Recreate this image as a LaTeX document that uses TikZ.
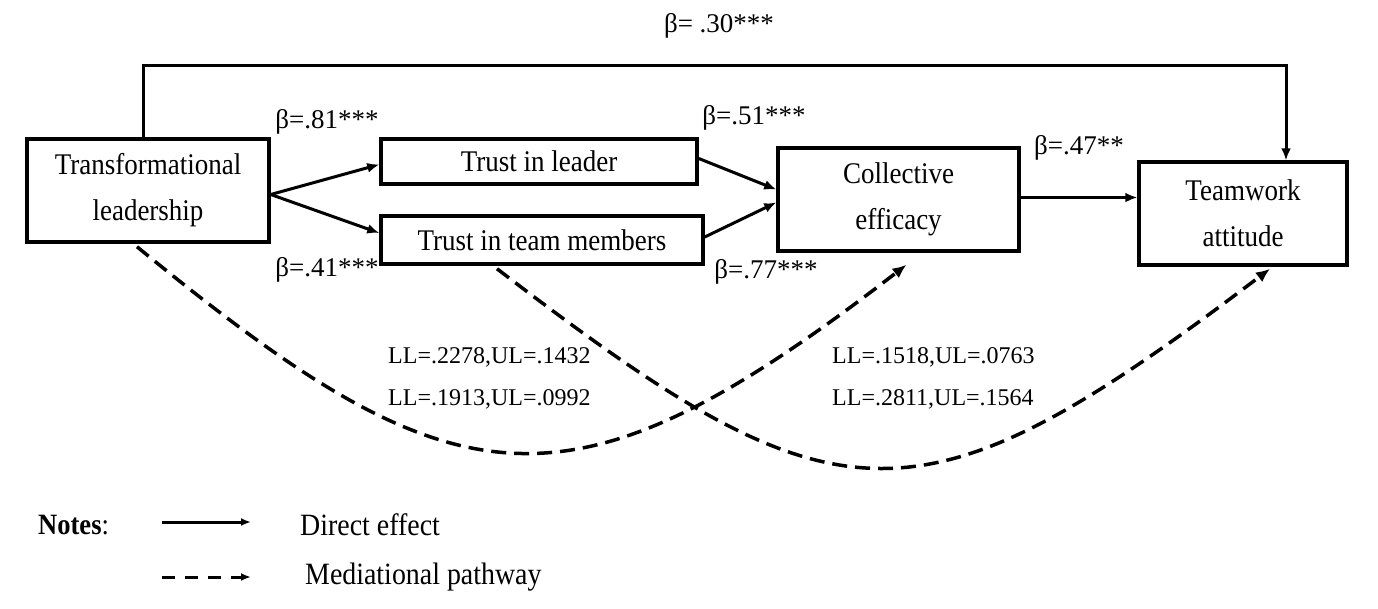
\documentclass[tikz,border=0pt]{standalone}
\usepackage{fontspec}
\setmainfont{Liberation Serif}
\newfontfamily\narrowfont[FakeStretch=0.9]{Liberation Serif}
\usepackage{tikz}
\usetikzlibrary{positioning,calc,arrows.meta}

\begin{document}
\begin{tikzpicture}[x=1pt,y=-1pt,
    box/.style={draw,line width=3.5pt,align=center,inner sep=0pt,
        font=\narrowfont\fontsize{30}{46}\selectfont},
    direct/.style={line width=3pt,-{Latex[length=12pt,width=10pt]}},
    mediation/.style={line width=3.5pt,dash pattern=on 15pt off 8pt,
        -{Latex[length=14pt,width=12pt]}},
    coef/.style={font=\fontsize{27}{30}\selectfont,inner sep=0pt},
    ci/.style={font=\fontsize{24}{26}\selectfont,inner sep=0pt},
    legend/.style={font=\narrowfont\fontsize{31}{33}\selectfont,inner sep=0pt,anchor=west}]
    \useasboundingbox (0,0) rectangle (1378,608);
    % boxes
    \node[box,minimum width=242pt,minimum height=103pt] (tl) at (148,190.5) {Transformational\\leadership};
    \node[box,minimum width=316pt,minimum height=45pt] (tleader) at (539,161.5) {Trust in leader};
    \node[box,minimum width=322pt,minimum height=48pt] (tteam) at (542,240) {Trust in team members};
    \node[box,minimum width=241pt,minimum height=103pt] (ce) at (898.5,199.5) {Collective\\efficacy};
    \node[box,minimum width=208pt,minimum height=103pt] (ta) at (1243,213.5) {Teamwork\\attitude};
    % direct effects
    \draw[direct] ([xshift=-5pt]tl.north) -- ++(0,-72) -| ([xshift=43pt]ta.north);
    \draw[direct] ([yshift=-4pt]tl.east) -- ([yshift=-3pt]tleader.west);
    \draw[direct] ([yshift=-4pt]tl.east) -- ([yshift=7pt]tteam.west);
    \draw[direct] ([yshift=3pt]tleader.east) -- ([yshift=10pt]ce.west);
    \draw[direct] ([yshift=3pt]tteam.east) -- ([yshift=-3pt]ce.west);
    \draw[direct] ([yshift=2pt]ce.east) -- ([yshift=2pt]ce.east -| ta.west);
    % mediational pathways
    \draw[mediation] ([xshift=-11pt,yshift=-3pt]tl.south) .. controls +(320,262) and +(-340,262) .. ([xshift=8pt,yshift=-12pt]ce.south);
    \draw[mediation] ([xshift=-45pt,yshift=-3pt]tteam.south) .. controls +(340,260) and +(-356,270) .. ([xshift=27pt,yshift=-2pt]ta.south);
    % coefficients
    \node[coef] (b30) at (719,26) {β= .30***};
    \node[coef] (b81) at (327,122) {β=.81***};
    \node[coef] (b41) at (327,270) {β=.41***};
    \node[coef] (b51) at (754,118) {β=.51***};
    \node[coef] (b77) at (766,272) {β=.77***};
    \node[coef] (b47) at (1079,148) {β=.47**};
    % confidence intervals
    \node[ci,anchor=west] (ci1) at (388,357) {LL=.2278,UL=.1432};
    \node[ci,anchor=west] (ci2) at (388,399) {LL=.1913,UL=.0992};
    \node[ci,anchor=west] (ci3) at (832,357) {LL=.1518,UL=.0763};
    \node[ci,anchor=west] (ci4) at (832,399) {LL=.2811,UL=.1564};
    % legend
    \node[legend,font=\narrowfont\fontsize{29.5}{31}\selectfont] (notes) at (38,525) {\textbf{Notes}:};
    \coordinate (la1) at (162,522);
    \coordinate (lb1) at (251,522);
    \coordinate (la2) at (162,577);
    \coordinate (lb2) at (251,577);
    \draw[direct,-{Latex[length=10pt,width=8pt]}] (la1) -- (lb1);
    \draw[mediation,line width=3pt,dash pattern=on 13pt off 10pt,-{Latex[length=10pt,width=8pt]}] (la2) -- (lb2);
    \node[legend] (ldirect) at (300,525) {Direct effect};
    \node[legend] (lmed) at (305,577) {Mediational pathway};
\end{tikzpicture}
\end{document}
